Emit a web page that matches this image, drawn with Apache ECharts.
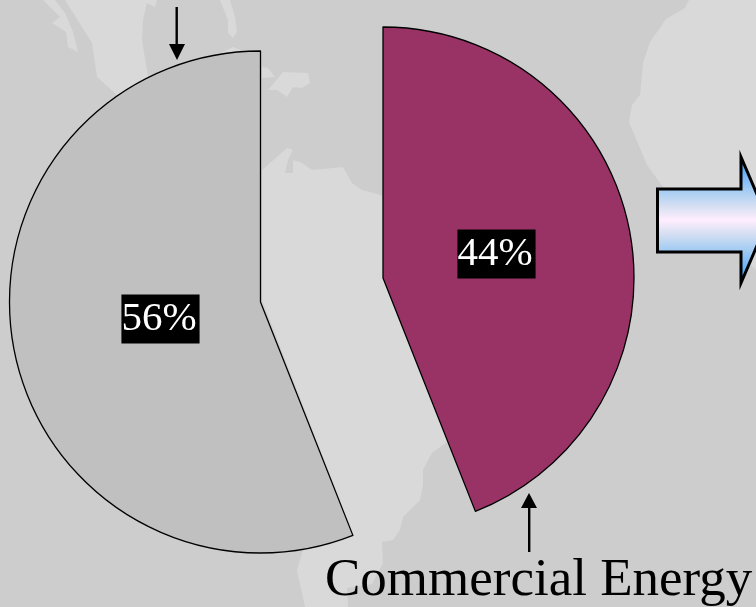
<!DOCTYPE html>
<html><head><meta charset="utf-8">
<style>html,body{margin:0;padding:0;background:#cdcdcd}#c{width:756px;height:607px}</style>
<script src="https://cdn.jsdelivr.net/npm/echarts@6/dist/echarts.min.js"></script>
</head><body><div id="c"></div>
<script>
const categories = ['Commercial Energy', 'Other'];
const shares = [44, 56];
const noteLabel = 'Commercial Energy';

const land = [
 [[43,0],[60,17],[52,23],[66,32],[68,47],[78,52],[73,32],[65,13],[55,0]],
 [[65,0],[92,43],[97,77],[117,95],[148,77],[142,40],[143,20],[147,3],[155,7],[157,0]],
 [[220,0],[228,20],[228,33],[233,38],[237,32],[235,17],[230,0]],
 [[223,52],[233,47],[240,50],[240,56],[223,56]],
 [[262,67],[268,68],[275,77],[262,78]],
 [[268,90],[283,72],[308,73],[310,83],[302,88],[293,87],[287,97],[277,90]],
 [[262,170],[287,148],[293,150],[288,160],[285,173],[293,173],[293,160],[302,163],[312,170],[343,167],[352,183],[362,190],[370,192],[390,198],[450,300],[447,442],[432,453],[423,470],[423,485],[420,500],[403,517],[400,530],[393,540],[382,542],[383,563],[372,584],[347,588],[348,607],[305,607],[297,570],[302,553],[340,500],[262,300]],
 [[689,0],[685,8],[666,19],[650,42],[643,63],[640,95],[632,105],[629,122],[647,165],[663,187],[700,215],[756,270],[756,0]]
];

const chart = echarts.init(document.getElementById('c'), null, {renderer:'canvas'});
const poly = (points, style, z) => ({type:'polygon', silent:true, z:z, shape:{points}, style});
const arrowStyle = {fill:'#000', stroke:'#000', lineWidth:0};
const pie = (center, visibleIndex, color, labelLayout) => ({
  type:'pie', radius:[0,251], center, startAngle:90, clockwise:true,
  silent:true, animation:false, z:5, labelLine:{show:false},
  labelLayout,
  data: categories.map((name,i)=>({
    name, value:shares[i],
    itemStyle: i===visibleIndex
      ? {color, borderColor:'#000', borderWidth:1.3}
      : {color:'transparent', borderWidth:0},
    label:{
      show:i===visibleIndex, position:'inside', formatter:'{c}%',
      fontFamily:'Liberation Serif', fontSize:41, color:'#fff',
      backgroundColor:'#000', padding:[6,3,2,0], lineHeight:41
    }
  }))
});
chart.setOption({
  backgroundColor:'#cdcdcd',
  graphic:[
    ...land.map(p=>poly(p,{fill:'#d9d9d9'},0)),
    poly([[657.5,189],[741,189],[741,157],[768,220],[741,283],[741,252],[657.5,252]],{
      fill:new echarts.graphic.LinearGradient(0,0,0,1,[
        {offset:0,color:'#3399ff'},{offset:0.27,color:'#a4ccf2'},{offset:0.4,color:'#d8e0f2'},{offset:0.5,color:'#ffeeff'},{offset:0.6,color:'#d8e0f2'},{offset:0.73,color:'#a4ccf2'},{offset:1,color:'#3399ff'}]),
      stroke:'#000',lineWidth:3},1),
    {type:'rect',silent:true,z:6,shape:{x:175.5,y:7,width:2.4,height:40},style:{fill:'#000'}},
    poly([[169,44],[185,44],[177,60]],arrowStyle,6),
    {type:'rect',silent:true,z:6,shape:{x:528,y:505,width:2.4,height:47},style:{fill:'#000'}},
    poly([[521,508],[537,508],[529,493]],arrowStyle,6),
    {type:'text',silent:true,z:6,style:{text:noteLabel,x:325,y:555,fontFamily:'Liberation Serif',fontSize:53,fill:'#000'}}
  ],
  series:[
    pie([260.5,302],1,'#c0c0c0',{x:160.5,y:319,align:'center',verticalAlign:'middle'}),
    pie([383,278],0,'#993366',{x:496.5,y:254,align:'center',verticalAlign:'middle'})
  ]
});
</script></body></html>
